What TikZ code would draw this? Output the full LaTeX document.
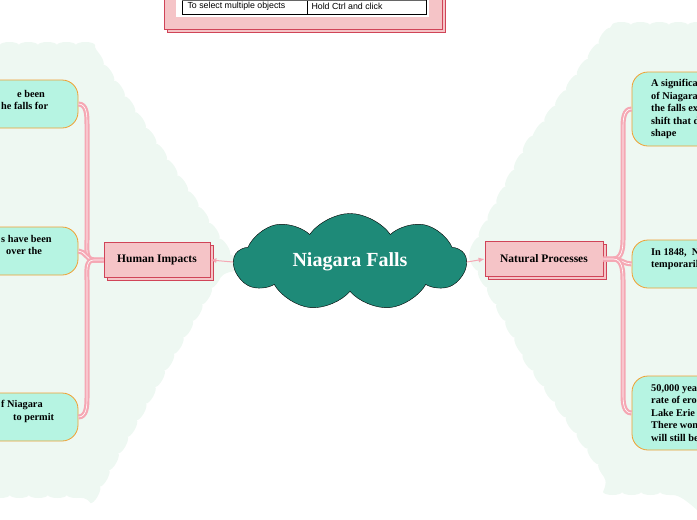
\documentclass[tikz,border=0pt]{standalone}
\usepackage{fontspec}
\setmainfont{Liberation Serif}
\setsansfont{Liberation Sans}
\usetikzlibrary{shapes.symbols,shadows,decorations.pathmorphing,arrows.meta}
\definecolor{blobgreen}{RGB}{238,248,242}
\definecolor{cloudgreen}{RGB}{30,138,120}
\definecolor{topicpink}{RGB}{245,196,199}
\definecolor{topicline}{RGB}{208,68,88}
\definecolor{subfill}{RGB}{182,244,226}
\definecolor{subline}{RGB}{240,160,50}
\definecolor{linkpink}{RGB}{245,168,180}
\begin{document}
\begin{tikzpicture}
    [
    x=1pt,y=-1pt,
    blob/.style={fill=blobgreen,decorate,decoration={bumps,segment length=38pt,amplitude=3pt}},
    topic/.style={rectangle,draw=topicline,fill=topicpink,thick,minimum height=35pt,
      font=\bfseries\fontsize{11.5}{13}\selectfont,
      copy shadow={shadow xshift=3pt,shadow yshift=-3pt,draw=topicline,fill=topicpink,thick}},
    subtopic/.style={rectangle,rounded corners=16pt,draw=subline,fill=subfill,thick},
    subtext/.style={font=\bfseries\fontsize{10.3}{12.6}\selectfont,align=left,inner sep=0pt},
    link/.style={linkpink,line width=2.2pt,double=white,double distance=0.6pt},
    mainlink/.style={-{Latex[length=6pt,width=5pt]},linkpink,line width=1pt}
    ]
    \useasboundingbox (0,0) rectangle (697,520);
    % background areas
    \path[blob] (0,45) -- (90,45) -- (160,150) -- (230,255) -- (170,360) -- (95,495) -- (0,495) -- cycle;
    \path[blob] (612,25) -- (697,25) -- (697,492) -- (618,492) -- (530,365) -- (470,255) -- (525,150) -- cycle;
    % legend table
    \node (legshadow) at (306,10) [draw=topicline,fill=topicpink,minimum width=278pt,minimum height=44pt] {};
    \node (legend) at (303,7) [draw=topicline,fill=topicpink,minimum width=278pt,minimum height=44pt] {};
    \fill[white] (176,-10) rectangle (429,17);
    \draw[black] (182,-10) rectangle (426,14);
    \draw[black] (307,-10) -- (307,14);
    \draw[black!60] (182,0) -- (426,0);
    \node (tab1) at (184,6.5) [anchor=west,font=\sffamily\fontsize{8.8}{10}\selectfont] {To select multiple objects};
    \node (tab2) at (308,6.5) [anchor=west,font=\sffamily\fontsize{8.8}{10}\selectfont] {Hold Ctrl and click};
    % central topic
    \node (centre) at (350,262) [cloud,cloud puffs=9,cloud puff arc=110,aspect=2.4,draw=black,fill=cloudgreen,
      inner sep=2pt,minimum width=232pt,minimum height=97pt,text=white,font=\bfseries\fontsize{20}{22}\selectfont] {Niagara Falls};
    \node (human) at (157,260) [topic,minimum width=106pt] {Human Impacts};
    \node (natural) at (544,259) [topic,minimum width=118pt] {Natural Processes};
    % subtopics
    \node (h1) at (20,104) [subtopic,minimum width=116pt,minimum height=48pt] {};
    \node (h2) at (20,251) [subtopic,minimum width=116pt,minimum height=48pt] {};
    \node (h3) at (20,417) [subtopic,minimum width=116pt,minimum height=48pt] {};
    \node (n1) at (690,109) [subtopic,minimum width=116pt,minimum height=74pt] {};
    \node (n2) at (690,264) [subtopic,minimum width=116pt,minimum height=48pt] {};
    \node (n3) at (690,413) [subtopic,minimum width=116pt,minimum height=74pt] {};
    \node (h1t) at (1,90) [subtext,anchor=north west] {\hspace*{16pt}e been\\he falls for};
    \node (h2t) at (1,235) [subtext,anchor=north west] {s have been\\\hspace*{5pt}over the};
    \node (h3t) at (1,400) [subtext,anchor=north west] {f Niagara\\\hspace*{12pt}to permit};
    \node (n1t) at (651,79) [subtext,anchor=north west] {A significa\\of Niagara\\the falls ex\\shift that d\\shape};
    \node (n2t) at (651,248) [subtext,anchor=north west] {In 1848,\ \ N\\temporarily};
    \node (n3t) at (651,384) [subtext,anchor=north west] {50,000 yea\\rate of eros\\Lake Erie w\\There won't\\will still be};
    % connectors
    \draw[link] (human.west) -- ++(-10,0) to[out=180,in=-90] (87,240) -- (87,124) to[out=90,in=0] (h1.east);
    \draw[link] (human.west) -- ++(-10,0) to[out=180,in=0] (h2.east);
    \draw[link] (human.west) -- ++(-10,0) to[out=180,in=90] (87,280) -- (87,398) to[out=-90,in=0] (h3.east);
    \draw[link] (natural.east) -- ++(10,0) to[out=0,in=-90] (623,240) -- (623,128) to[out=90,in=180] (n1.west);
    \draw[link] (natural.east) -- ++(10,0) to[out=0,in=180] (n2.west);
    \draw[link] (natural.east) -- ++(10,0) to[out=0,in=90] (623,280) -- (623,394) to[out=-90,in=180] (n3.west);
    \draw[mainlink] (centre.west) -- (human.east);
    \draw[mainlink] (centre.east) -- (natural.west);
\end{tikzpicture}
\end{document}
